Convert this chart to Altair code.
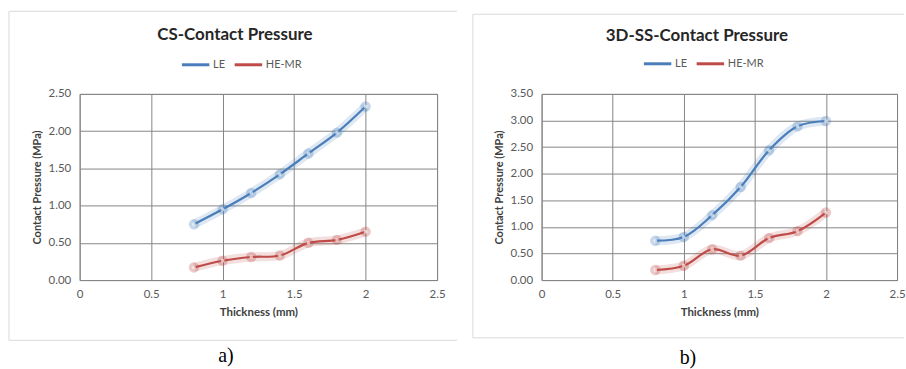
import altair as alt
import pandas as pd

thickness = [0.8, 1.0, 1.2, 1.4, 1.6, 1.8, 2.0]
cs_le = [0.75, 0.95, 1.17, 1.42, 1.70, 1.98, 2.33]
cs_hemr = [0.17, 0.26, 0.31, 0.33, 0.50, 0.54, 0.65]
ss_le = [0.74, 0.81, 1.22, 1.75, 2.44, 2.89, 2.99]
ss_hemr = [0.19, 0.27, 0.58, 0.46, 0.79, 0.92, 1.27]
series = ["LE", "HE-MR"]
colors = ["#4A7EBB", "#BE4B48"]
x_ticks = [0, 0.5, 1, 1.5, 2, 2.5]

FONT = "Lato"
GRID = "#858585"
LABEL = "#595959"


def panel(title, caption, le, hemr, ymax, W, H, frame, title_y, leg_y, cap_y):
    rows = []
    for s, vals in zip(series, [le, hemr]):
        for t, v in zip(thickness, vals):
            rows.append({"Thickness": t, "Pressure": v, "Series": s})
    df = pd.DataFrame(rows)
    yticks = [i * 0.5 for i in range(int(ymax / 0.5) + 1)]

    xenc = alt.X("Thickness:Q", scale=alt.Scale(domain=[0, 2.5], nice=False),
                 axis=alt.Axis(values=x_ticks, title="Thickness (mm)", format="~g",
                               grid=True, gridColor=GRID, domain=False, ticks=False,
                               labelFlush=False,
                               labelColor=LABEL, labelFont=FONT, labelFontSize=11.5,
                               labelPadding=9, titleFont=FONT, titleFontSize=11.5,
                               titleFontWeight="bold", titleColor="#404040",
                               titlePadding=6))
    yenc = alt.Y("Pressure:Q", scale=alt.Scale(domain=[0, ymax], nice=False),
                 axis=alt.Axis(values=yticks, title="Contact Pressure (MPa)", format=".2f",
                               grid=True, gridColor=GRID, domain=False, ticks=False,
                               labelFlush=False,
                               labelColor=LABEL, labelFont=FONT, labelFontSize=11.5,
                               labelPadding=9, titleFont=FONT, titleFontSize=11,
                               titleFontWeight="bold", titleColor="#404040",
                               titlePadding=6))
    cenc = alt.Color("Series:N", scale=alt.Scale(domain=series, range=colors), sort=series,
                     legend=alt.Legend(orient="none", legendX=101, legendY=leg_y,
                                       direction="horizontal", title=None,
                                       symbolType="stroke", symbolSize=760,
                                       symbolStrokeWidth=3, symbolOpacity=1,
                                       labelFont=FONT,
                                       labelFontSize=11, labelColor=LABEL,
                                       labelOffset=2, columnPadding=2))

    base = alt.Chart(df)
    one = alt.Chart(pd.DataFrame({"k": [0]}))

    fx1, fx2, fy1, fy2 = frame
    bg = one.mark_rect(fillOpacity=0, strokeOpacity=0).encode(
        x=alt.value(fx1), x2=alt.value(fx2), y=alt.value(fy1), y2=alt.value(fy2))
    layers = [bg]
    for (a, b, c, d) in [(fx1, fx2, fy1, fy1), (fx1, fx2, fy2, fy2), (fx1, fx1, fy1, fy2)]:
        layers.append(one.mark_rule(color="#d9d9d9", strokeWidth=1).encode(
            x=alt.value(a), x2=alt.value(b), y=alt.value(c), y2=alt.value(d)))

    halo = base.mark_line(interpolate="catmull-rom", strokeWidth=9, opacity=0.18).encode(
        x=xenc, y=yenc, color=cenc)
    glow = base.mark_circle(size=110, opacity=0.3).encode(x=xenc, y=yenc, color=cenc)
    line = base.mark_line(interpolate="catmull-rom", strokeWidth=2.2).encode(
        x=xenc, y=yenc, color=cenc)
    dots = base.mark_circle(size=14, opacity=0.6, color="#ffffff").encode(x=xenc, y=yenc)

    ttl = one.mark_text(font=FONT, fontSize=17, fontWeight="bold", color="#262626",
                        baseline="middle", align="center").encode(
        x=alt.value(156), y=alt.value(title_y), text=alt.value(title))
    cap = one.mark_text(font="Liberation Serif", fontSize=20, color="#000000",
                        baseline="middle", align="center").encode(
        x=alt.value(147), y=alt.value(cap_y), text=alt.value(caption))

    layers += [halo, glow, line, dots, ttl, cap]
    return alt.layer(*layers).properties(width=W, height=H)


left = panel("CS-Contact Pressure", "a)", cs_le, cs_hemr, 2.5, 359, 187,
             (-71, 379, -83, 247.5), -59, -45, 263)
right = panel("3D-SS-Contact Pressure", "b)", ss_le, ss_hemr, 3.5, 357, 187,
              (-69, 364, -80, 245), -58, -46, 265)

chart = alt.concat(left, right, columns=2, spacing=14, align="none").resolve_scale(
    color="independent", x="independent", y="independent"
).configure_view(stroke=GRID, strokeWidth=1).properties(
    padding={"left": 8, "top": 9.5, "right": 0, "bottom": 0})

chart.save("out.html", embed_options={"renderer": "svg", "actions": False})
